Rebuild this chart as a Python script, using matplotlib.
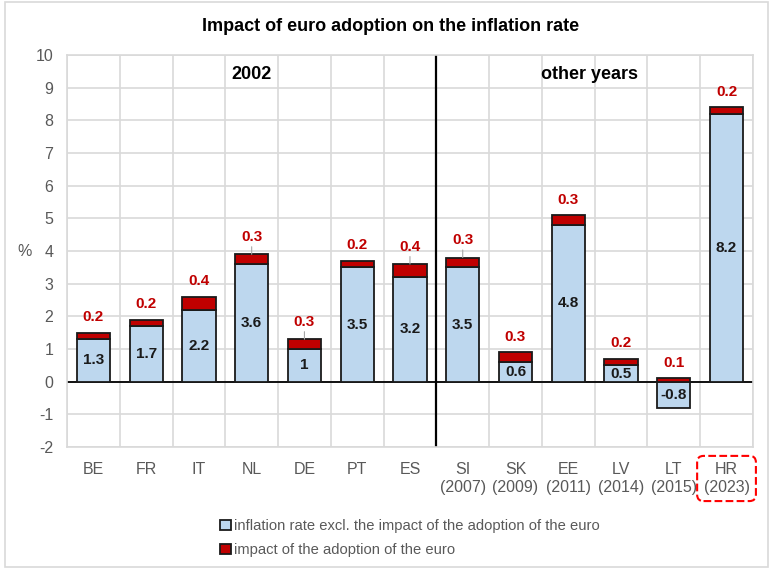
import numpy as np
import matplotlib.pyplot as plt
from matplotlib.patches import Rectangle

plt.rcParams['font.family'] = ['Liberation Sans', 'DejaVu Sans']
plt.rcParams['axes.unicode_minus'] = False

# Data
countries = ['BE', 'FR', 'IT', 'NL', 'DE', 'PT', 'ES',
             'SI\n(2007)', 'SK\n(2009)', 'EE\n(2011)', 'LV\n(2014)', 'LT\n(2015)', 'HR\n(2023)']
base_rate = [1.3, 1.7, 2.2, 3.6, 1.0, 3.5, 3.2, 3.5, 0.6, 4.8, 0.5, -0.8, 8.2]
euro_impact = [0.2, 0.2, 0.4, 0.3, 0.3, 0.2, 0.4, 0.3, 0.3, 0.3, 0.2, 0.1, 0.2]
base_labels = ['1.3', '1.7', '2.2', '3.6', '1', '3.5', '3.2', '3.5', '0.6', '4.8', '0.5', '-0.8', '8.2']
leader = ['NL', 'DE', 'ES', 'SI\n(2007)']

blue = '#BDD7EE'
red = '#C00000'
grey_txt = '#595959'

x = np.arange(len(countries))
bar_width = 0.63
# positive stacking starts at zero when base is negative
bottoms = [max(b, 0) for b in base_rate]

fig = plt.figure(figsize=(7.73, 5.69), dpi=100)
ax = fig.add_axes([0.0867, 0.2144, 0.8873, 0.6889])

ax.bar(x, base_rate, width=bar_width, color=blue, edgecolor='#1a1a1a', linewidth=1.3,
       label='inflation rate excl. the impact of the adoption of the euro', zorder=3)
ax.bar(x, euro_impact, bottom=bottoms, width=bar_width, color=red, edgecolor='#1a1a1a',
       linewidth=1.3, label='impact of the adoption of the euro', zorder=3)

# labels inside bars
for xi, b, lab in zip(x, base_rate, base_labels):
    ax.text(xi, b / 2, lab, ha='center', va='center', fontsize=11,
            fontweight='bold', color='#1a1a1a', zorder=4)

# red labels above bars
for xi, c, b, imp in zip(countries, x, bottoms, euro_impact):
    top = b + imp
    if xi in leader:
        ax.annotate(f'{imp}', xy=(c, top), xytext=(c, top + 0.53), ha='center', va='center',
                    fontsize=11, fontweight='bold', color=red,
                    arrowprops=dict(arrowstyle='-', color='#A6A6A6', lw=0.8,
                                    shrinkA=6, shrinkB=0), zorder=4)
    else:
        ax.text(c, top + 0.47, f'{imp}', ha='center', va='center', fontsize=11,
                fontweight='bold', color=red, zorder=4)

ax.set_xlim(-0.5, len(countries) - 0.5)
ax.set_ylim(-2, 10)
ax.set_yticks(range(-2, 11))
ax.set_xticks(x)
ax.set_xticklabels(countries)
ax.set_xticks(np.arange(-0.5, len(countries)), minor=True)
ax.tick_params(axis='both', which='both', length=0, labelsize=11.5, labelcolor=grey_txt)
ax.tick_params(axis='x', pad=11)
ax.tick_params(axis='y', pad=10)
ax.grid(True, axis='y', color='#D9D9D9', linewidth=1.2, zorder=0)
ax.grid(True, axis='x', which='minor', color='#D9D9D9', linewidth=1.2, zorder=0)
for s in ax.spines.values():
    s.set_color('#D9D9D9')
    s.set_linewidth(1.2)

ax.axhline(0, color='black', linewidth=1.3, zorder=2)
ax.axvline(6.5, color='black', linewidth=1.6, zorder=2)

ax.text(3, 9.4, '2002', ha='center', va='center', fontsize=13, fontweight='bold')
ax.text(9.4, 9.4, 'other years', ha='center', va='center', fontsize=13, fontweight='bold')
ax.set_ylabel('%', rotation=0, fontsize=11.5, color=grey_txt, va='center', ha='center')
ax.yaxis.set_label_coords(-0.062, 0.5)

# dashed box around HR
ax.get_xticklabels()[-1].set_bbox(dict(boxstyle='round,pad=0.4', fc='none', ec='#FF0000',
                                       ls='--', lw=1.5))

fig.text(0.505, 0.953, 'Impact of euro adoption on the inflation rate', ha='center', va='center',
         fontsize=13, fontweight='bold')

fig.legend(loc='upper left', bbox_to_anchor=(0.285, 0.088), frameon=False, fontsize=10.6,
           handlelength=0.7, handleheight=0.7, handletextpad=0.2, labelspacing=0.68,
           labelcolor=grey_txt, borderaxespad=0, borderpad=0)

fig.patches.append(Rectangle((0.006, 0.004), 0.988, 0.992, transform=fig.transFigure,
                             fill=False, edgecolor='#D9D9D9', linewidth=1.2))

plt.savefig('out.png', dpi=100)
